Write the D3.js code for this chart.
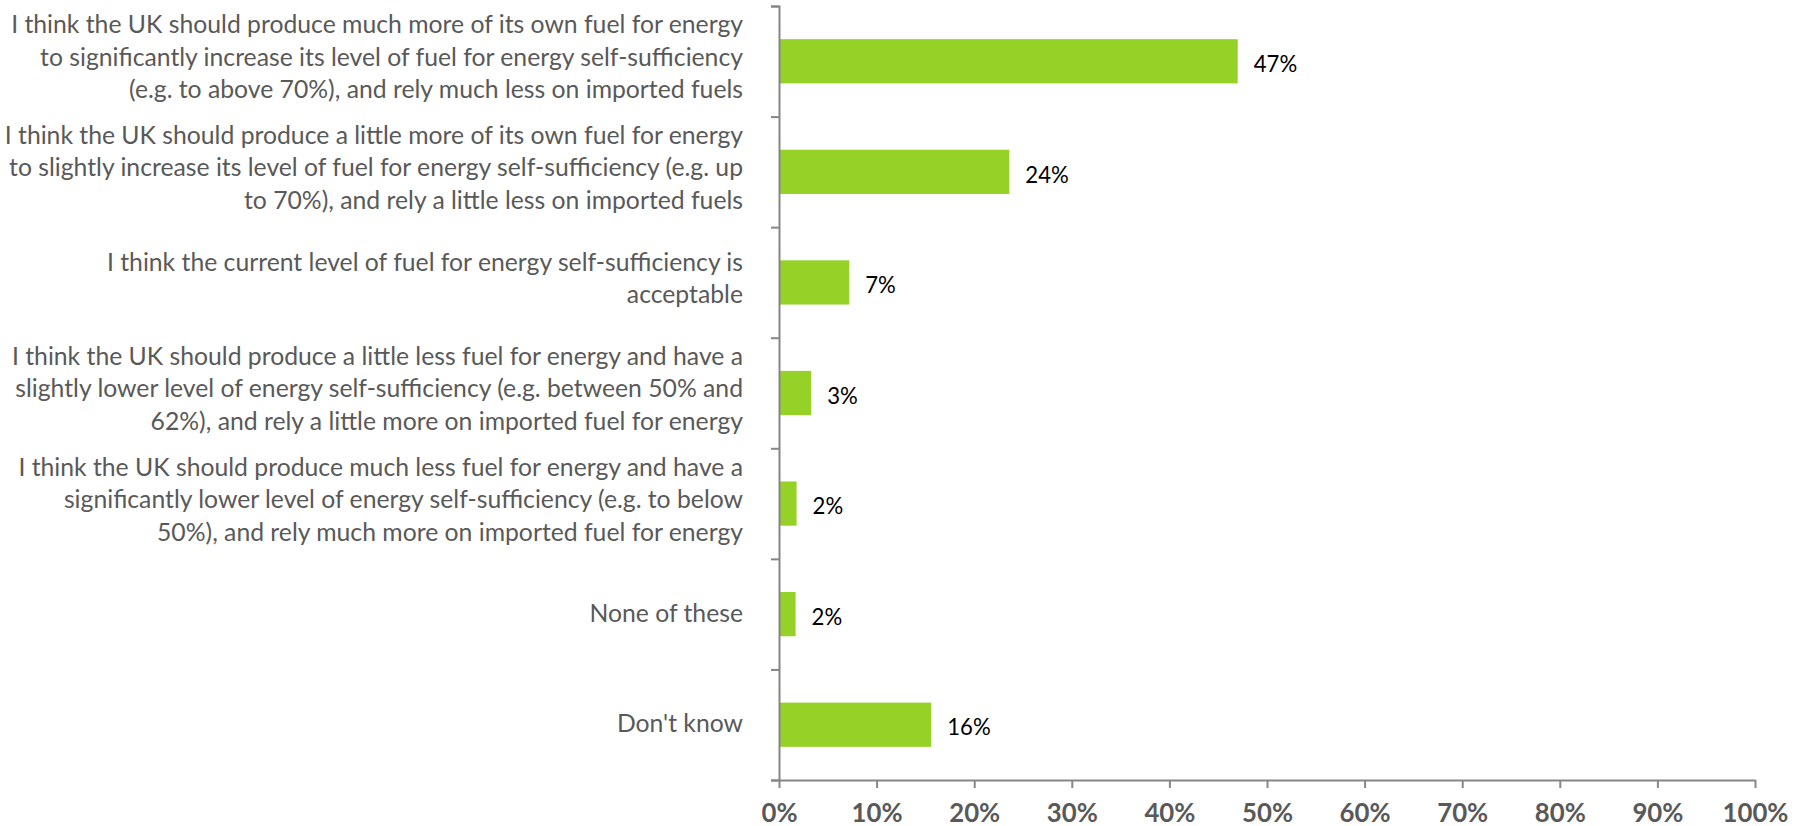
<!DOCTYPE html>
<html>
<head>
<meta charset="utf-8">
<script src="https://cdn.jsdelivr.net/npm/d3@7"></script>
<style>
  body { margin: 0; background: #fff; }
  svg { display: block; }
</style>
</head>
<body>
<div id="chart"></div>
<script>
// データ
const categories = [
    ["I think the UK should produce much more of its own fuel for energy",
     "to significantly increase its level of fuel for energy self-sufficiency",
     "(e.g. to above 70%), and rely much less on imported fuels"],
    ["I think the UK should produce a little more of its own fuel for energy",
     "to slightly increase its level of fuel for energy self-sufficiency (e.g. up",
     "to 70%), and rely a little less on imported fuels"],
    ["I think the current level of fuel for energy self-sufficiency is",
     "acceptable"],
    ["I think the UK should produce a little less fuel for energy and have a",
     "slightly lower level of energy self-sufficiency (e.g. between 50% and",
     "62%), and rely a little more on imported fuel for energy"],
    ["I think the UK should produce much less fuel for energy and have a",
     "significantly lower level of energy self-sufficiency (e.g. to below",
     "50%), and rely much more on imported fuel for energy"],
    ["None of these"],
    ["Don't know"]
];
const values = [47.0, 23.6, 7.2, 3.3, 1.8, 1.7, 15.6];
const valueLabels = ["47%", "24%", "7%", "3%", "2%", "2%", "16%"];
const xTicks = [0, 10, 20, 30, 40, 50, 60, 70, 80, 90, 100];

const width = 1802;
const height = 826;
const svg = d3.select("#chart").append("svg")
    .attr("width", width)
    .attr("height", height);

const fontFamily = "Lato, 'Open Sans', sans-serif";
const axisColor = "#868686";
const textGray = "#595959";
const barColor = "#95d126";

// フォントサイズをCalibriの幅に合わせて調整
const probe = svg.append("text")
    .attr("font-family", fontFamily)
    .attr("font-size", 24)
    .text(categories[0][0]);
const fontScale = 732 / probe.node().getComputedTextLength();
probe.remove();
const labelSize = 24 * fontScale;
const valueSize = 21.5 * fontScale;
const tickSize = 25 * fontScale;

// スケール
const x = d3.scaleLinear().domain([0, 100]).range([779, 1755]);
const y = d3.scaleBand()
    .domain(d3.range(categories.length))
    .range([6, 780])
    .paddingInner(0.6)
    .paddingOuter(0.3);
const yEdge = d3.scaleLinear().domain([0, categories.length]).range([6, 780]);

// バー
svg.selectAll("rect.bar")
    .data(values)
    .enter().append("rect")
    .attr("class", "bar")
    .attr("x", x(0))
    .attr("y", (d, i) => y(i))
    .attr("width", d => x(d) - x(0))
    .attr("height", y.bandwidth())
    .attr("fill", barColor);

// Y軸（目盛りのみ）
const yAxis = svg.append("g")
    .attr("transform", `translate(${x(0)},0)`)
    .call(d3.axisLeft(yEdge).tickValues(d3.range(categories.length + 1)).tickSize(8).tickFormat(""));
yAxis.select(".domain").attr("stroke", axisColor).attr("stroke-width", 2);
yAxis.selectAll(".tick line").attr("stroke", axisColor).attr("stroke-width", 2);

// X軸
const xAxis = svg.append("g")
    .attr("transform", `translate(0,${yEdge(categories.length)})`)
    .call(d3.axisBottom(x).tickValues(xTicks).tickSize(8).tickSizeOuter(0).tickPadding(0).tickFormat(d => d + "%"));
xAxis.select(".domain").attr("stroke", axisColor).attr("stroke-width", 2);
xAxis.selectAll(".tick line").attr("stroke", axisColor).attr("stroke-width", 2);
xAxis.selectAll(".tick text")
    .attr("y", 33)
    .attr("dy", "0.35em")
    .attr("font-family", fontFamily)
    .attr("font-size", tickSize)
    .attr("font-weight", "bold")
    .attr("fill", textGray);

// カテゴリラベル（複数行）
const lineHeight = 32.5;
const labelGroups = svg.selectAll("text.cat")
    .data(categories)
    .enter().append("text")
    .attr("class", "cat")
    .attr("text-anchor", "end")
    .attr("font-family", fontFamily)
    .attr("font-size", labelSize)
    .attr("fill", textGray);
labelGroups.each(function(lines, i) {
    const cy = y(i) + y.bandwidth() / 2 + (lines.length === 1 ? 3 : 0);
    d3.select(this).selectAll("tspan")
        .data(lines)
        .enter().append("tspan")
        .attr("x", 743)
        .attr("y", (d, j) => cy + (j - (lines.length - 1) / 2) * lineHeight)
        .attr("dy", "0.18em")
        .text(d => d);
});

// 値ラベル
svg.selectAll("text.val")
    .data(values)
    .enter().append("text")
    .attr("class", "val")
    .attr("x", d => x(d) + 16)
    .attr("y", (d, i) => y(i) + y.bandwidth() / 2 + 3)
    .attr("dy", "0.35em")
    .attr("font-family", fontFamily)
    .attr("font-size", valueSize)
    .attr("fill", "#000")
    .text((d, i) => valueLabels[i]);
</script>
</body>
</html>
